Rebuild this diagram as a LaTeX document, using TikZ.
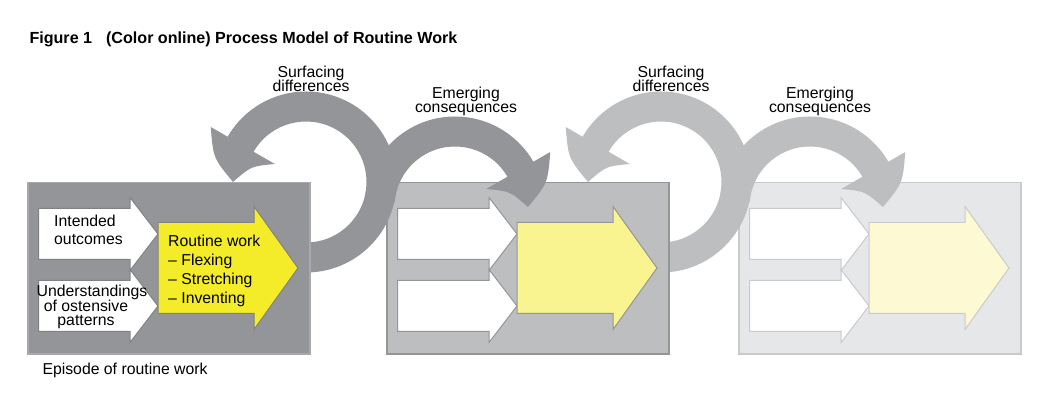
\documentclass[tikz,border=0pt]{standalone}
\usepackage{fontspec}
\setmainfont{Liberation Sans}
\usetikzlibrary{calc}
\definecolor{gA}{HTML}{939598}
\definecolor{gAline}{HTML}{A7A9AC}
\definecolor{gB}{HTML}{BCBEC0}
\definecolor{gC}{HTML}{E6E7E8}
\definecolor{gCline}{HTML}{C9CACC}
\definecolor{arrA}{HTML}{808285}
\definecolor{yA}{HTML}{F5EC29}
\definecolor{yB}{HTML}{F9F390}
\definecolor{yC}{HTML}{FDF9D3}
\newcommand\tightlines{\lineskiplimit=-20pt\relax\lineskip=0pt\relax}
\newcommand\episodebox[5]{%
\begin{scope}[shift={(#1,228.5)}]
\filldraw[fill=#2, draw=#3, line width=1.2pt] (0,0) rectangle (282,-171.5);
\filldraw[fill=white, draw=#4, line width=1pt] (10.5,-26) -- (102,-26) -- (102,-15) -- (130,-51.5) -- (102,-88) -- (102,-77) -- (10.5,-77) -- cycle;
\filldraw[fill=white, draw=#4, line width=1pt] (10.5,-98) -- (102,-98) -- (102,-87) -- (130,-123.5) -- (102,-160) -- (102,-149) -- (10.5,-149) -- cycle;
\filldraw[fill=#5, draw=#4, line width=1pt] (130,-40) -- (226,-40) -- (226,-24) -- (270,-85.5) -- (226,-147) -- (226,-131) -- (130,-131) -- cycle;
\end{scope}}
% loop that surfaces differences (arrow turning back to the left)
\newcommand\surfloop[2]{%
\fill[#2] ($(#1)+(-90:90.5)$) arc[start angle=-90, end angle=150, radius=90.5]
  -- ($(#1)+(150:110)$) .. controls ($(#1)+(165.5:95.8)$) .. ($(#1)+(180:73)$)
  .. controls ($(#1)+(164:57.2)$) .. ($(#1)+(150:36)$)
  -- ($(#1)+(150:60.5)$) arc[start angle=150, end angle=-90, radius=60.5] -- cycle;}
% arc of emerging consequences (arrow turning forward to the right)
\newcommand\emergarc[2]{%
\fill[#2] ($(#1)+(175:90.5)$) arc[start angle=175, end angle=30, radius=90.5]
  -- ($(#1)+(30:110)$) .. controls ($(#1)+(14.5:95.8)$) .. ($(#1)+(0:73)$)
  .. controls ($(#1)+(16:57.2)$) .. ($(#1)+(30:36)$)
  -- ($(#1)+(30:60.5)$) arc[start angle=30, end angle=175, radius=60.5] -- cycle;}
\begin{document}
\begin{tikzpicture}[x=1pt,y=1pt,
  txt/.style={inner sep=0pt, font={\fontsize{15.8}{18}\selectfont}},
  tight/.style={inner sep=0pt, font={\fontsize{15.8}{14.2}\selectfont\tightlines}}]
\useasboundingbox (0,0) rectangle (1049,411);
\fill[white] (0,0) rectangle (1049,411);
\coordinate (c1) at (306,229);
\coordinate (c2) at (455,204);
\coordinate (c3) at (661,229);
\coordinate (c4) at (810,204);
% third episode
\episodebox{739}{gC}{gCline}{gCline}{yC}
\surfloop{c3}{gB}
\emergarc{c4}{gB}
% second episode
\episodebox{387}{gB}{gA}{gA}{yB}
\surfloop{c1}{gA}
\emergarc{c2}{gA}
% first episode
\episodebox{28}{gA}{gAline}{arrA}{yA}
% texts
\node[inner sep=0pt, anchor=base west, font={\fontsize{16.1}{18}\selectfont\bfseries}] (title) at (29.3,367) {Figure 1\hspace*{14pt}(Color online) Process Model of Routine Work};
\node[tight, align=center] (surf1) at (311,332.5) {Surfacing\\differences};
\node[tight, align=center] (emerg1) at (466,309.3) {Emerging\\consequences};
\node[tight, align=center] (surf2) at (671,332.5) {Surfacing\\differences};
\node[tight, align=center] (emerg2) at (820,309.3) {Emerging\\consequences};
\node[txt, anchor=west, align=left] (intended) at (54,181) {Intended\\outcomes};
\node[inner sep=0pt, align=center, font={\fontsize{15.8}{14.2}\selectfont\tightlines}] (underst) at (86,104) {\hspace*{12pt}Understandings\\of ostensive\\patterns};
\node[inner sep=0pt, anchor=west, align=left, font={\fontsize{15.8}{19.2}\selectfont}] (routine) at (168,140.2) {Routine work\\\textendash\ Flexing\\\textendash\ Stretching\\\textendash\ Inventing};
\node[txt, anchor=base west] (episode) at (42.3,36) {Episode of routine work};
\end{tikzpicture}
\end{document}
